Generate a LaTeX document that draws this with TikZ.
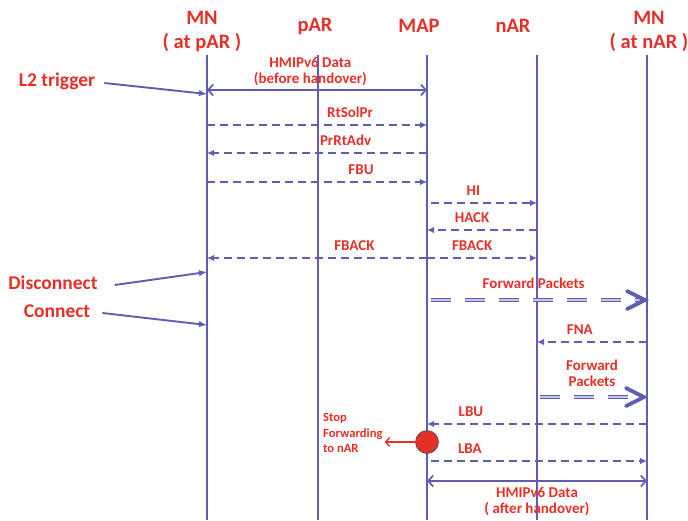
\documentclass[tikz,border=0pt]{standalone}
\usepackage{fontspec}
\setmainfont{Carlito}
\usetikzlibrary{arrows.meta,positioning,calc}

\definecolor{lineblue}{RGB}{96,94,178}
\definecolor{msgred}{RGB}{228,48,40}

\tikzset{
	life/.style = {draw=lineblue, line width=2.6pt},
	head/.style = {text=msgred, font=\bfseries\fontsize{20.5}{24}\selectfont, align=center, inner sep=0pt},
	side/.style = {text=msgred, font=\bfseries\fontsize{19.5}{20}\selectfont, inner sep=0pt},
	lbl/.style = {text=msgred, font=\bfseries\fontsize{15}{16}\selectfont, align=center, inner sep=0pt},
	msg/.style = {draw=lineblue, line width=2.2pt, dash pattern=on 8pt off 5pt, -{Latex[length=7pt,width=6.5pt]}},
	data/.style = {draw=lineblue, line width=1.7pt, {Straight Barb[length=5pt,width=11pt]}-{Straight Barb[length=5pt,width=11pt]}},
	hint/.style = {draw=lineblue, line width=1.9pt, -{Latex[length=8pt,width=6.5pt]}},
	fwd/.style = {draw=lineblue, line width=1.3pt, double=lineblue!35, double distance=1.5pt, dash pattern=on 20pt off 14pt},
	fwdtip/.style = {draw=lineblue, line width=3.8pt, line cap=round}
}

\begin{document}
\begin{tikzpicture}[x=1pt,y=-1pt]
	\useasboundingbox (0,0) rectangle (688,520);

	% lifelines
	\foreach \n/\x in {mn/207, par/318, map/427, nar/537, mnn/647} {
		\coordinate (\n) at (\x,55);
		\coordinate (\n-end) at (\x,520);
		\draw[life] (\n) -- (\n-end);
	}

	% entity names
	\node[head] (mn-head) at (202,31) {MN\\( at pAR )};
	\node[head] (par-head) at (315,26) {pAR};
	\node[head] (map-head) at (419,26) {MAP};
	\node[head] (nar-head) at (513,26) {nAR};
	\node[head] (mnn-head) at (649,31) {MN\\( at nAR )};

	% link layer events at the mobile node
	\node[side] (l2) at (57,81) {L2 trigger};
	\node[side] (disc) at (53,283) {Disconnect};
	\node[side] (conn) at (57,311) {Connect};
	\draw[hint] (l2.east) ++(9,2) -- (mn |- 0,94);
	\draw[hint] (disc.east) ++(17,2) -- (mn |- 0,272);
	\draw[hint] (conn.east) ++(12,2) -- (mn |- 0,325);

	% data before handover
	\draw[data] (mn |- 0,90) -- node[lbl, above=3pt, pos=0.47] {HMIPv6 Data\\(before handover)} (map |- 0,90);

	% fast handover signalling
	\draw[msg] (mn |- 0,125) -- node[lbl, above=6pt, pos=0.65] {RtSolPr} (map |- 0,125);
	\draw[msg] (map |- 0,153) -- node[lbl, above=6pt, pos=0.37] {PrRtAdv} (mn |- 0,153);
	\draw[msg] (mn |- 0,182) -- node[lbl, above=6pt, pos=0.7] {FBU} (map |- 0,182);
	\draw[msg] ($(map |- 0,203)+(4,0)$) -- node[lbl, above=6pt, pos=0.4] {HI} (nar |- 0,203);
	\draw[msg] (nar |- 0,230) -- node[lbl, above=6pt, pos=0.59] {HACK} (map |- 0,230);
	\draw[msg] (map |- 0,258) -- node[lbl, above=6pt, pos=0.33] {FBACK} (mn |- 0,258);
	\draw[msg] (map |- 0,258) -- node[lbl, above=6pt, pos=0.41] {FBACK} (nar |- 0,258);

	% forwarding from MAP to the new link
	\coordinate (fwd1) at ($(mnn |- 0,300)+(-2,0)$);
	\draw[fwd] ($(map |- 0,300)+(4,0)$) -- node[lbl, above=11pt, pos=0.48] {Forward Packets} (fwd1);
	\draw[fwdtip] ($(fwd1)+(-18,-9)$) -- (fwd1) -- ++(-18,9);

	\draw[msg] (mnn |- 0,342) -- node[lbl, above=6pt, pos=0.61] {FNA} (nar |- 0,342);

	\coordinate (fwd2) at ($(mnn |- 0,397)+(-3,0)$);
	\draw[fwd] ($(nar |- 0,397)+(3,0)$) -- node[lbl, above=10pt, pos=0.5] {Forward\\Packets} (fwd2);
	\draw[fwdtip] ($(fwd2)+(-18,-9)$) -- (fwd2) -- ++(-18,9);

	% local binding update
	\draw[msg] (mnn |- 0,424) -- node[lbl, above=6pt, pos=0.8] {LBU} (map |- 0,424);
	\node[circle, fill=msgred, draw=black!70, line width=0.6pt, minimum size=23pt, inner sep=0pt] (stop) at (map |- 0,442) {};
	\node[text=msgred, font=\bfseries\fontsize{12.6}{15.5}\selectfont, align=left, anchor=west, inner sep=0pt] (stop-text) at (323,433) {Stop\\Forwarding\\to nAR};
	\draw[draw=msgred, line width=1.4pt, -{Straight Barb[length=4pt,width=9pt]}] (stop.west) -- ($(stop-text.east)+(2,9)$);
	\draw[msg] ($(map |- 0,461)+(4,0)$) -- node[lbl, above=6pt, pos=0.18] {LBA} (mnn |- 0,461);

	% data after handover
	\draw[data] (map |- 0,481) -- node[lbl, below=5pt, pos=0.5] {HMIPv6 Data\\( after handover)} (mnn |- 0,481);
\end{tikzpicture}
\end{document}
